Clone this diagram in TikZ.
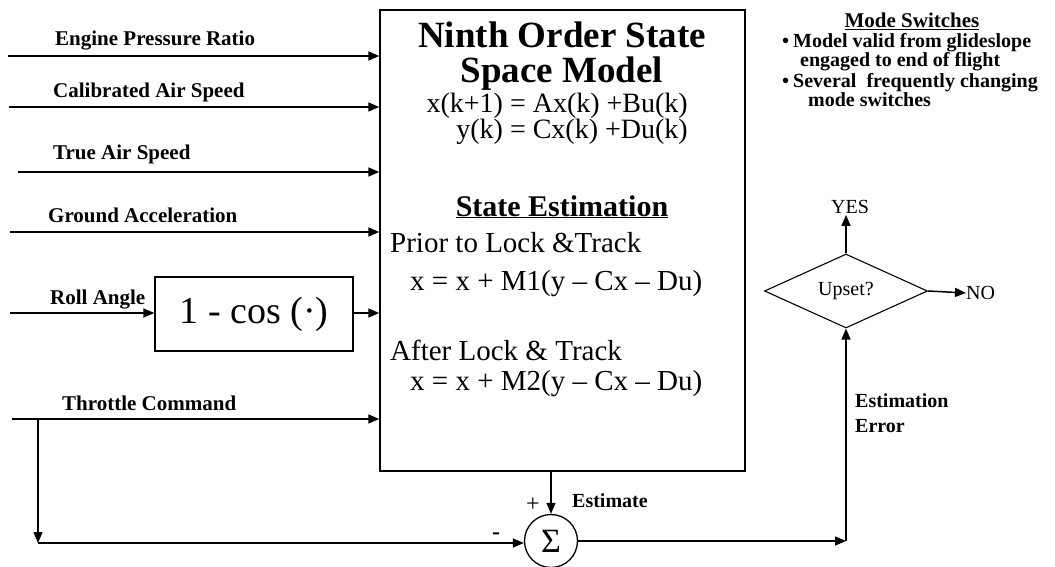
\documentclass[tikz,border=0pt]{standalone}
\usepackage{fontspec}
\setmainfont{Liberation Serif}
\usetikzlibrary{positioning, shapes.geometric, arrows.meta, calc}

\begin{document}
\begin{tikzpicture}[x=1pt, y=-1pt,
		% --- styles ---
		modelblock/.style={
			rectangle, draw, line width=1.4pt, inner sep=0pt,
			minimum width=365pt, minimum height=461pt
		},
		fnblock/.style={
			rectangle, draw, line width=1.3pt, inner sep=0pt,
			minimum width=198pt, minimum height=74pt, font=\fontsize{38}{40}\selectfont
		},
		sumnode/.style={
			circle, draw, line width=1.3pt, inner sep=0pt,
			minimum size=53pt, font=\fontsize{34}{36}\selectfont
		},
		decnode/.style={
			diamond, draw, line width=1.1pt, inner sep=0pt, aspect=2.3,
			minimum width=163pt, minimum height=74pt, font=\fontsize{20}{24}\selectfont
		},
		line/.style={
			draw, line width=1.5pt, -{Triangle[length=11pt,width=9pt]}
		},
		inlabel/.style={
			font=\fontsize{21}{24}\selectfont\bfseries, anchor=base west, inner sep=0pt
		},
		boxtitle/.style={
			font=\fontsize{37}{40}\selectfont\bfseries, anchor=base, inner sep=0pt
		},
		boxtext/.style={
			font=\fontsize{29}{32}\selectfont, anchor=base west, inner sep=0pt
		},
		eqtext/.style={
			font=\fontsize{28}{32}\selectfont, anchor=base east, inner sep=0pt
		},
		notetext/.style={
			font=\fontsize{20}{24}\selectfont\bfseries, anchor=base west, inner sep=0pt
		},
		plaintext/.style={
			font=\fontsize{20}{24}\selectfont, inner sep=1pt
		}
	]
	\useasboundingbox (0,0) rectangle (1055,567);
	
	% ==========================================
	% 1. Main model block
	% ==========================================
	\node [modelblock] (model) at (562.5,240.5) {};
	\node [boxtitle] (title1) at (562,48) {Ninth Order State};
	\node [boxtitle] (title2) at (562,83) {Space Model};
	\node [eqtext] (eq1) at (688,113) {x(k+1) = Ax(k) +Bu(k)};
	\node [eqtext] (eq2) at (688,139) {y(k) = Cx(k) +Du(k)};
	\node [boxtitle, font=\fontsize{30}{32}\selectfont\bfseries] (esttitle) at (562,216) {\underline{State Estimation}};
	\node [boxtext] (prior) at (390,252) {Prior to Lock \&Track};
	\node [boxtext] (upd1) at (410,290) {x = x + M1(y – Cx – Du)};
	\node [boxtext] (after) at (390,360) {After Lock \& Track};
	\node [boxtext] (upd2) at (410,390) {x = x + M2(y – Cx – Du)};
	
	% ==========================================
	% 2. Inputs
	% ==========================================
	\foreach \i/\x/\y/\lx/\ly/\txt in {
		1/8/56/55/46/Engine Pressure Ratio,
		2/9/107/53/98/Calibrated Air Speed,
		3/18/172/53/160/True Air Speed,
		4/10/232/48/222/Ground Acceleration}{
		\coordinate (in\i) at (\x,\y);
		\draw [line] (in\i) -- (model.west |- in\i);
		\node [inlabel] (lab\i) at (\lx,\ly) {\txt};
	}
	
	% Roll angle through 1 - cos
	\coordinate (rollin) at (10,313);
	\node [fnblock] (cosblk) at (254,314) {1 - cos (\textperiodcentered)};
	\node [inlabel] (rolllab) at (50,304) {Roll Angle};
	\draw [line] (rollin) -- (cosblk.west |- rollin);
	\draw [line] (cosblk.east |- rollin) -- (model.west |- rollin);
	
	% Throttle command and its branch
	\coordinate (thrin) at (12,419);
	\node [inlabel] (thrlab) at (62,410) {Throttle Command};
	\draw [line] (thrin) -- (model.west |- thrin);
	\coordinate (split) at (38,419);
	\coordinate (corner) at (38,543);
	
	% ==========================================
	% 3. Summing junction
	% ==========================================
	\node [sumnode] (sum) at (551,541) {Σ};
	\draw [line] (split) -- (corner);
	\draw [line] (corner) -- (sum.west |- corner);
	\draw [line] (model.south -| sum) -- (sum.north);
	\node [notetext] (estlab) at (572,507) {Estimate};
	\node [plaintext, font=\fontsize{24}{24}\selectfont] (plus) at (533,505) {+};
	\node [plaintext, font=\fontsize{24}{24}\selectfont\bfseries] (minus) at (496,536) {-};
	
	% ==========================================
	% 4. Upset decision
	% ==========================================
	\node [decnode] (upset) at (846,291) {Upset?};
	\coordinate (errcorner) at (upset.south |- sum);
	\draw [line] (sum.east) -- (errcorner);
	\draw [line] (errcorner) -- (upset.south);
	\node [notetext] (errlab1) at (855,407) {Estimation};
	\node [notetext] (errlab2) at (855,432) {Error};
	
	\node [plaintext] (yes) at (850,207) {YES};
	\draw [line] (upset.north) -- (upset.north |- yes.south);
	\node [plaintext, anchor=west, inner sep=0pt] (no) at (966,293) {NO};
	\draw [line] (upset.east) -- (no.west);
	
	% ==========================================
	% 5. Mode switches note
	% ==========================================
	\node [boxtitle, font=\fontsize{21}{24}\selectfont\bfseries] (modetitle) at (912,28) {\underline{Mode Switches}};
	\node [notetext] (bul1) at (782,48) {•};
	\node [notetext] (note1) at (793,48) {Model valid from glideslope};
	\node [notetext] (note2) at (800,67) {engaged to end of flight};
	\node [notetext] (bul2) at (782,88) {•};
	\node [notetext] (note3) at (793,88) {Several\ \ frequently changing};
	\node [notetext] (note4) at (808,107) {mode switches};
\end{tikzpicture}
\end{document}
